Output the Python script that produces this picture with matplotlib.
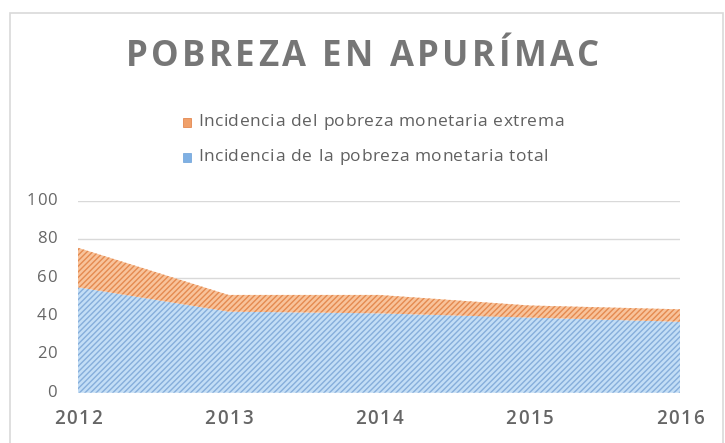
import matplotlib
matplotlib.use("Agg")
import matplotlib.pyplot as plt
from matplotlib.patches import Rectangle
import numpy as np

years = [2012, 2013, 2014, 2015, 2016]
total = [55.0, 42.3, 41.4, 39.2, 37.0]
extrema = [20.6, 8.7, 9.6, 6.3, 6.5]
series_names = ["Incidencia del pobreza monetaria extrema",
                "Incidencia de la pobreza monetaria total"]
yticks = [0, 20, 40, 60, 80, 100]
title = "POBREZA EN APURÍMAC"

W, H = 725, 443
plt.rcParams['hatch.linewidth'] = 1.0
fig = plt.figure(figsize=(W/100, H/100), dpi=100)
fig.patch.set_facecolor("white")

# outer frame
fig.add_artist(Rectangle((10/W, -0.01), (723-10)/W, (H-13)/H + 0.01,
                         transform=fig.transFigure, fill=False,
                         edgecolor="#d9d9d9", linewidth=1.2))

ax = fig.add_axes([78/W, (H-392.7)/H, (680-78)/W, (392.7-201)/H])
x = np.array(years)
tot = np.array(total)
ext = np.array(extrema)

blue_fill = "#c3def6"
blue_hatch = "#86aedb"
orange_fill = "#f8c39b"
orange_hatch = "#e48a50"

ax.fill_between(x, 0, tot, facecolor=blue_fill, edgecolor=blue_hatch,
                hatch="//////", linewidth=0, zorder=2)
ax.fill_between(x, tot, tot + ext, facecolor=orange_fill, edgecolor=orange_hatch,
                hatch="//////", linewidth=0, zorder=2)

ax.set_xlim(years[0], years[-1])
ax.set_ylim(0, 100)
ax.set_yticks(yticks)
ax.set_xticks(years)
ax.set_xticklabels([])
ax.set_yticklabels([])
ax.tick_params(axis="both", length=0)
ax.grid(axis="y", color="#d9d9d9", linewidth=1, zorder=0)
ax.set_axisbelow(True)
for s in ax.spines.values():
    s.set_visible(False)

fig.canvas.draw()
renderer = fig.canvas.get_renderer()


def spaced_text(s, px_x, px_y, fs, spacing, ha="center", space_factor=1.0,
                **kw):
    """Draw letter-spaced text at pixel position (from top-left)."""
    widths = []
    for ch in s:
        t = fig.text(0, 0, ch if ch != " " else "n", fontsize=fs, **kw)
        w = t.get_window_extent(renderer).width
        if ch == " ":
            w *= space_factor
        widths.append(w)
        t.remove()
    total_w = sum(widths) + spacing * (len(s) - 1)
    if ha == "center":
        xpos = px_x - total_w / 2
    elif ha == "right":
        xpos = px_x - total_w
    else:
        xpos = px_x
    for ch, w in zip(s, widths):
        if ch != " ":
            fig.text(xpos / W, 1 - px_y / H, ch, fontsize=fs, ha="left",
                     va="center", **kw)
        xpos += w + spacing


# title
spaced_text(title, 362.5, 57, 25, 3.5, space_factor=0.4, family="Open Sans",
            fontweight="bold", color="#767676")

# x tick labels
for yr in years:
    px = ax.transData.transform((yr, 0))[0]
    spaced_text(str(yr), px, 419, 13.5, 1.8, family="Open Sans",
                fontweight="semibold", color="#666666")

# y tick labels
for v in yticks:
    py = H - ax.transData.transform((years[0], v))[1]
    spaced_text(str(v), 57, py, 12, 0.8, ha="right", family="Open Sans",
                color="#666666")

# legend
leg_y = [122, 157]
colors = ["#f0a06a", "#7fb0e3"]
edge = ["#e07a3e", "#6a9fd8"]
for yy, name, c, e in zip(leg_y, series_names, colors, edge):
    fig.add_artist(Rectangle((183/W, 1 - (yy + 4.5)/H), 8/W, 9/H,
                             transform=fig.transFigure, facecolor=c, edgecolor=e,
                             linewidth=0.5))
    spaced_text(name, 198, yy, 12.5, 0.5, ha="left", space_factor=0.5,
                family="Open Sans", color="#606060")

fig.savefig("out.png", dpi=100, facecolor="white")
